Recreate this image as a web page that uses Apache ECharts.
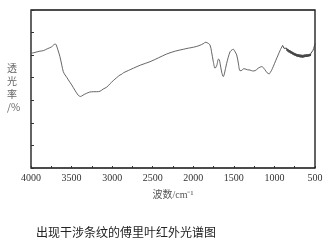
<!DOCTYPE html>
<html><head><meta charset="utf-8">
<script src="https://cdn.jsdelivr.net/npm/echarts@6/dist/echarts.min.js"></script>
<style>html,body{margin:0;padding:0;background:#fff}#c{width:329px;height:247px}</style>
</head><body><div id="c"></div>
<script>
const wavenumbers = [4000,3950,3900,3848,3800,3750,3720,3704,3690,3670,3643,3620,3602,3580,3560,3530,3498,3460,3417,3390,3375,3345,3314,3280,3232,3190,3150,3110,3067,3030,2986,2945,2903,2880,2860,2800,2739,2650,2533,2430,2328,2220,2123,2060,1999,1930,1870,1855,1830,1794,1775,1753,1732,1710,1691,1680,1669,1650,1630,1615,1590,1547,1520,1506,1490,1465,1445,1424,1400,1380,1363,1330,1301,1270,1239,1200,1157,1130,1118,1090,1064,1050,1035,1015,985,954,925,899];
const transmittance = [5.08,5.12,5.17,5.20,5.28,5.36,5.45,5.50,5.46,5.25,4.93,4.55,4.27,4.12,4.02,3.85,3.68,3.45,3.22,3.17,3.19,3.26,3.31,3.36,3.38,3.38,3.40,3.50,3.58,3.72,3.87,4.00,4.12,4.16,4.22,4.32,4.42,4.56,4.71,4.88,5.05,5.18,5.26,5.31,5.35,5.42,5.52,5.57,5.55,5.45,5.15,4.71,4.42,4.55,4.82,4.80,4.62,4.25,4.05,4.20,4.62,5.15,5.24,5.26,5.18,5.01,4.65,4.31,4.33,4.40,4.39,4.35,4.34,4.30,4.31,4.42,4.49,4.42,4.36,4.22,4.17,4.24,4.33,4.49,4.75,5.01,5.25,5.43];
// noisy fingerprint band (899 - 500 cm-1)
const bandWavenumbers = [899,893,887,881,875,869,863,857,851,845,839,833,827,821,815,809,803,797,791,785,779,773,767,761,755,749,743,737,731,725,719,713,707,701,695,689,683,677,671,665,659,653,647,641,635,629,623,617,611,605,599,593,587,581,575,569,563,557,551,545,539,533,527,521,515,509,504,500];
const bandValues = [5.43,5.36,5.42,5.30,5.38,5.26,5.34,5.22,5.31,5.19,5.28,5.15,5.25,5.12,5.22,5.10,5.20,5.07,5.17,5.05,5.15,5.02,5.12,5.00,5.10,4.98,5.08,4.96,5.06,4.94,5.05,4.93,5.04,4.92,5.03,4.91,5.02,4.90,5.02,4.90,5.01,4.89,5.01,4.90,5.02,4.91,5.03,4.92,5.03,4.92,5.04,4.93,5.04,4.94,5.05,4.95,5.06,4.96,5.08,5.00,5.12,5.08,5.20,5.18,5.30,5.38,5.46,5.52];
const xTicks = [4000,3500,3000,2500,2000,1500,1000,500];
const yAxisTitle = '透\n光\n率\n/%';
const xAxisTitle = '波数/cm⁻¹';
const caption = '出现干涉条纹的傅里叶红外光谱图';

const chart = echarts.init(document.getElementById('c'), null, {renderer:'canvas'});
chart.setOption({
  animation:false,
  backgroundColor:'#fff',
  grid:{left:31,right:14,top:10,bottom:79,show:true,borderColor:'#111',borderWidth:1.3,backgroundColor:'transparent'},
  title:{text:caption,left:31,top:221,textStyle:{fontSize:12,fontWeight:'normal',color:'#222',fontFamily:'Noto Sans CJK SC'}},
  graphic:[{type:'text',left:7,top:62,style:{text:yAxisTitle,fill:'#666',font:'10px "Noto Sans CJK SC"',lineHeight:13,align:'center'}}],
  xAxis:{type:'value',min:500,max:4000,interval:250,inverse:true,
    axisLine:{show:false},
    axisTick:{show:true,inside:true,length:2,lineStyle:{color:'#333'}},
    splitLine:{show:false},
    axisLabel:{color:'#333',fontSize:10,fontFamily:'"Liberation Serif", "DejaVu Serif", serif',margin:5,
      formatter:v=>xTicks.includes(v)?String(v):''},
    name:xAxisTitle,nameLocation:'middle',nameGap:22,
    nameTextStyle:{color:'#555',fontSize:10,fontFamily:'"Liberation Serif", "Noto Sans CJK SC", serif'}},
  yAxis:{type:'value',min:0,max:7,interval:1,
    axisLine:{show:false},
    axisTick:{show:true,inside:true,length:3,lineStyle:{color:'#333'}},
    axisLabel:{show:false},splitLine:{show:false}},
  series:[
    {type:'line',data:wavenumbers.map((w,i)=>[w,transmittance[i]]),
     showSymbol:false,smooth:0.3,lineStyle:{color:'#555',width:0.9}},
    {type:'line',data:bandWavenumbers.map((w,i)=>[w,bandValues[i]]),
     showSymbol:false,smooth:false,lineStyle:{color:'#444',width:1}}
  ]
});
</script></body></html>
